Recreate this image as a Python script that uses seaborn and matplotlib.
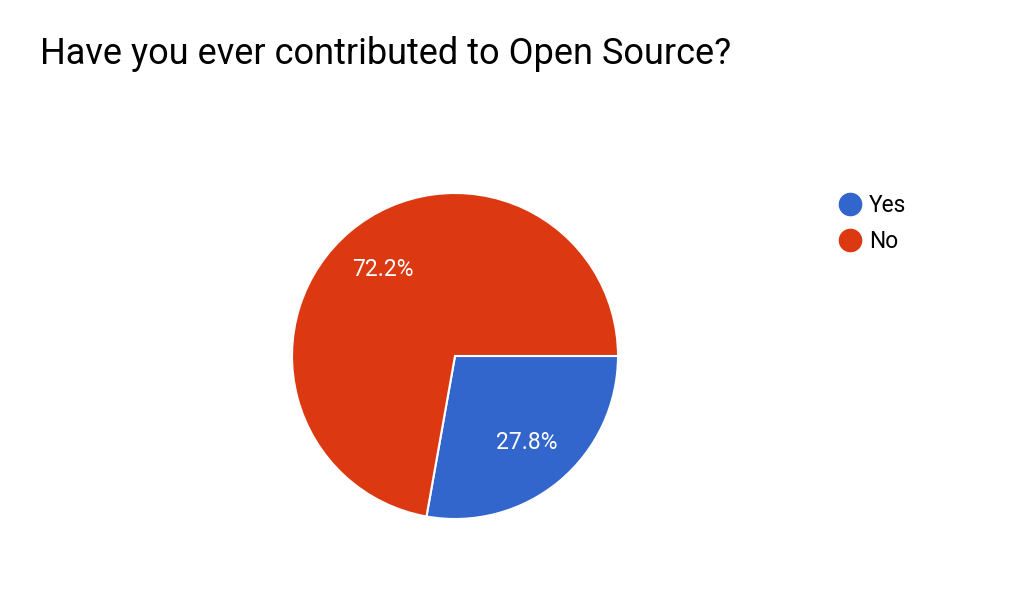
import matplotlib
matplotlib.use("Agg")
import matplotlib.pyplot as plt
from matplotlib.lines import Line2D
import seaborn as sns

sns.set_theme(style="white")
plt.rcParams['font.family'] = ['Roboto', 'DejaVu Sans']

# survey answers
answers = ["Yes", "No"]
shares = [27.8, 72.2]
colors = ["#3366CC", "#DC3912"]

fig = plt.figure(figsize=(10.24, 5.96), dpi=100)
fig.patch.set_facecolor("white")

# pie axes placed so the circle sits where the reference has it
ax = fig.add_axes([292 / 1024, 77 / 596, 326 / 1024, 326 / 596])
wedges, texts, autotexts = ax.pie(
    shares,
    colors=colors,
    startangle=0,
    counterclock=False,
    autopct="%1.1f%%",
    pctdistance=0.69,
    radius=1,
    wedgeprops={"edgecolor": "white", "linewidth": 1.5},
    textprops={"color": "white", "fontsize": 16.5},
)
ax.set_xlim(-1, 1)
ax.set_ylim(-1, 1)
ax.set_aspect("equal")
ax.axis("off")

fig.text(40 / 1024, 1 - 54 / 596, "Have you ever contributed to Open Source?",
         fontsize=26, color="black", va="center", ha="left")

handles = [Line2D([0], [0], marker="o", linestyle="", markersize=16,
                  markerfacecolor=c, markeredgecolor=c) for c in colors]
fig.legend(handles, answers, loc="upper left",
           bbox_to_anchor=(836 / 1024, 1 - 194 / 596),
           frameon=False, fontsize=16.4, handletextpad=0.25,
           labelspacing=0.58, borderaxespad=0, borderpad=0,
           handlelength=1.2, labelcolor="black")

fig.savefig("out.png", dpi=100, facecolor="white")
